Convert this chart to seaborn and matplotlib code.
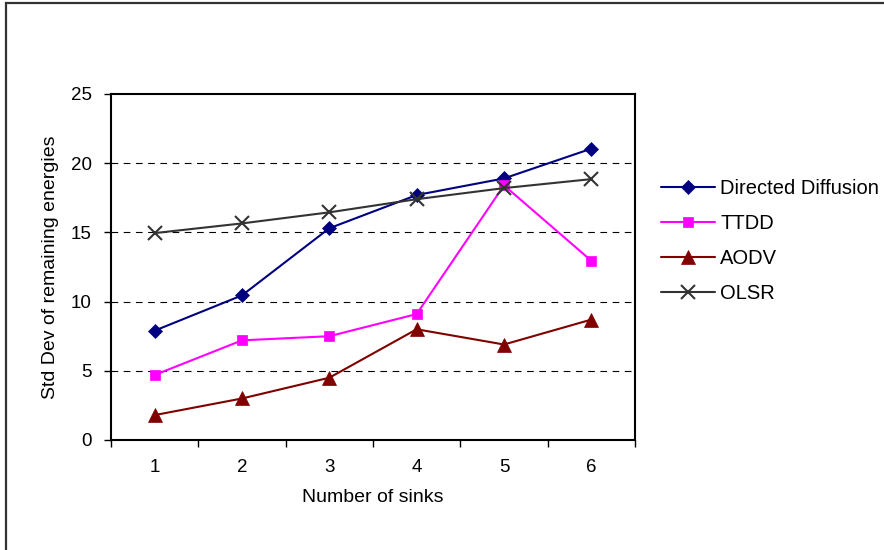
import matplotlib
matplotlib.use("Agg")
import matplotlib.pyplot as plt
import seaborn as sns
import pandas as pd
from matplotlib.lines import Line2D
from matplotlib.patches import Rectangle

sinks = [1, 2, 3, 4, 5, 6]
directed_diffusion = [7.9, 10.45, 15.3, 17.7, 18.9, 21.05]
ttdd = [4.7, 7.2, 7.5, 9.1, 18.4, 12.95]
aodv = [1.8, 3.0, 4.5, 8.0, 6.9, 8.7]
olsr = [14.95, 15.65, 16.45, 17.4, 18.2, 18.85]
series_names = ["Directed Diffusion", "TTDD", "AODV", "OLSR"]
y_ticks = [0, 5, 10, 15, 20, 25]

sns.set_theme(style="white")
plt.rcParams['font.family'] = ['Liberation Sans', 'DejaVu Sans']
plt.rcParams['text.color'] = 'black'
plt.rcParams['axes.labelcolor'] = 'black'
plt.rcParams['xtick.color'] = 'black'
plt.rcParams['ytick.color'] = 'black'

rows = []
for name, vals in zip(series_names, [directed_diffusion, ttdd, aodv, olsr]):
    for x, v in zip(sinks, vals):
        rows.append({"Number of sinks": x, "value": v, "series": name})
df = pd.DataFrame(rows)

colors = {"Directed Diffusion": "#000080", "TTDD": "#FF00FF",
          "AODV": "#800000", "OLSR": "#333333"}
markers = {"Directed Diffusion": "D", "TTDD": "s", "AODV": "^", "OLSR": "x"}
msizes = {"Directed Diffusion": 7.5, "TTDD": 7.5, "AODV": 9.5, "OLSR": 9.5}

fig = plt.figure(figsize=(8.84, 5.50), dpi=100)
fig.patches.append(Rectangle((6/884, -0.1), 1.1, 1 - 3/550 + 0.1,
                             transform=fig.transFigure, fill=False,
                             edgecolor="#333333", linewidth=1.6))
ax = fig.add_axes([111/884, 1 - 440/550, 524/884, 346/550])

for name in series_names:
    sub = df[df["series"] == name]
    sns.lineplot(data=sub, x="Number of sinks", y="value", ax=ax,
                 color=colors[name], marker=markers[name],
                 markersize=msizes[name], linewidth=1.5,
                 markeredgecolor=colors[name],
                 markeredgewidth=1.5 if name == "OLSR" else 0.5,
                 legend=False, zorder=3)

ax.set_xlim(0.5, 6.5)
ax.set_ylim(0, 25)
ax.set_yticks(y_ticks)
ax.set_xticks(sinks)
ax.set_xticks([0.5 + i for i in range(7)], minor=True)
ax.tick_params(axis="x", which="major", length=0, pad=14, labelsize=13.5)
ax.tick_params(axis="x", which="minor", length=5, width=1, direction="out",
               bottom=True, color="black")
ax.tick_params(axis="y", length=5, width=1, direction="out", left=True,
               labelsize=13.5, pad=9, color="black")
for yv in y_ticks[1:-1]:
    ax.axhline(yv, color="black", linestyle=(0, (6, 5)), linewidth=0.8, zorder=1)
for s in ax.spines.values():
    s.set_color("black")
    s.set_linewidth(1.5)
ax.set_xlabel("Number of sinks", fontsize=14, labelpad=9)
ax.set_ylabel("Std Dev of remaining energies", fontsize=14, labelpad=8)

handles = [Line2D([0], [0], color=colors[n], marker=markers[n],
                  markersize=msizes[n], linewidth=1.5,
                  markeredgewidth=1.5 if n == "OLSR" else 0.5)
           for n in series_names]
fig.legend(handles, series_names, loc="upper left",
           bbox_to_anchor=(661/884, 1 - 179/550), frameon=False,
           fontsize=14.5, handlelength=2.7, handletextpad=0.25,
           labelspacing=0.8, borderaxespad=0, borderpad=0)

fig.savefig("out.png", dpi=100, facecolor="white")
